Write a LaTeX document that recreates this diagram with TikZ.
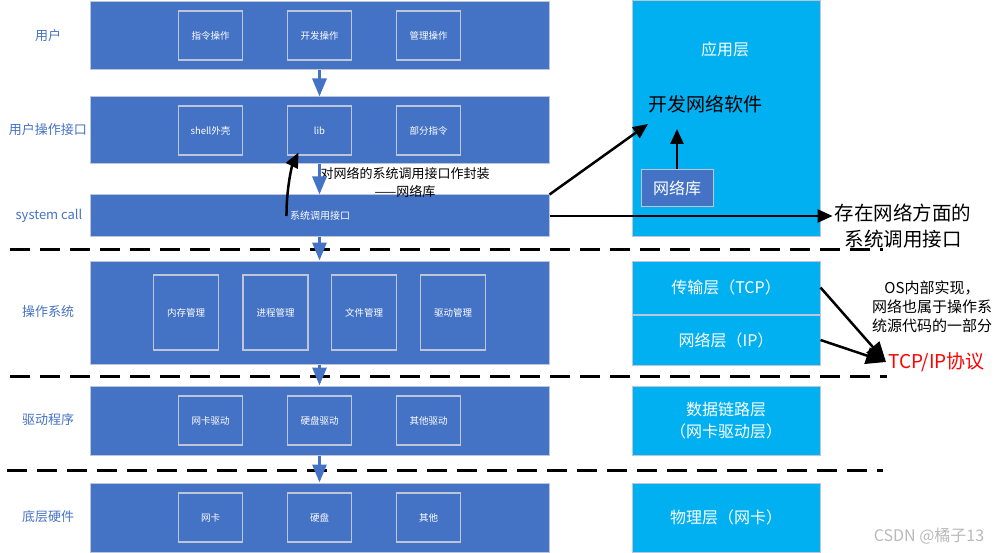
\documentclass[tikz,border=0pt]{standalone}
\usepackage{fontspec}
\setmainfont{Noto Sans CJK SC}
\usetikzlibrary{arrows.meta, positioning}
\definecolor{layerblue}{HTML}{4472C4}
\definecolor{netblue}{HTML}{00B0F0}
\definecolor{edgegray}{HTML}{BCC6D8}

\begin{document}
\begin{tikzpicture}[
    x=1pt, y=-1pt,
    layer/.style={rectangle, draw=edgegray, line width=1pt, fill=layerblue, minimum width=459, inner sep=0},
    part/.style={rectangle, draw=edgegray, line width=1.2pt, fill=layerblue, minimum width=64, minimum height=49, text=white, font=\fontsize{9.5}{11}\selectfont, inner sep=0},
    tall/.style={part, minimum width=65, minimum height=75},
    side/.style={text=layerblue, font=\fontsize{13}{15}\selectfont},
    netbox/.style={rectangle, draw=edgegray, line width=1pt, fill=netblue, minimum width=188, text=white, font=\fontsize{16}{22}\selectfont, align=center, inner sep=0},
    note/.style={text=black, align=center, inner sep=2pt},
    flow/.style={draw=layerblue, line width=3pt, -{Triangle[length=18pt, width=14pt]}},
    arrow/.style={-{Triangle[length=15pt, width=13pt]}, line width=2.5pt},
    bigarrow/.style={-{Triangle[length=20pt, width=17pt]}, line width=2.5pt},
    sep/.style={dash pattern=on 19.5pt off 10.5pt, line width=3pt},
]
\useasboundingbox (0,0) rectangle (1000,553);

% left stack
\node[layer, minimum height=68]  (user)    at (319.5,36)    {};
\node[layer, minimum height=67]  (uif)     at (319.5,130.5) {};
\node[layer, minimum height=42]  (syscall) at (319.5,216)   {};
\node[layer, minimum height=103] (os)      at (319.5,312.5) {};
\node[layer, minimum height=69]  (drv)     at (319.5,420.5) {};
\node[layer, minimum height=69]  (hw)      at (319.5,517.5) {};

\node[side] (userlbl) at (48,36)  {用户};
\node[side] (uiflbl)  at (48,130) {用户操作接口};
\node[side] (syslbl)  at (49,216) {system call};
\node[side] (oslbl)   at (48,312) {操作系统};
\node[side] (drvlbl)  at (48,420) {驱动程序};
\node[side] (hwlbl)   at (48,517) {底层硬件};

\node[part] (cmdop)    at (210.5,35.5)  {指令操作};
\node[part] (devop)    at (319.5,35.5)  {开发操作};
\node[part] (mgmtop)   at (428.5,35.5)  {管理操作};
\node[part] (shell)    at (210.5,130.5) {shell外壳};
\node[part] (lib)      at (319.5,130.5) {lib};
\node[part] (partcmd)  at (428.5,130.5) {部分指令};
\node[text=white, font=\fontsize{10}{12}\selectfont] (sysapi) at (320,216) {系统调用接口};
\node[tall] (mem)      at (186,312.5)   {内存管理};
\node[tall] (proc)     at (275.5,312.5) {进程管理};
\node[tall] (file)     at (364,312.5)   {文件管理};
\node[tall] (drvmgmt)  at (453,312.5)   {驱动管理};
\node[part] (nicdrv)   at (210.5,420.5) {网卡驱动};
\node[part] (diskdrv)  at (319.5,420.5) {硬盘驱动};
\node[part] (otherdrv) at (428.5,420.5) {其他驱动};
\node[part] (nic)      at (210.5,517.5) {网卡};
\node[part] (disk)     at (319.5,517.5) {硬盘};
\node[part] (other)    at (428.5,517.5) {其他};

% right stack
\node[netbox, minimum height=236] (app) at (726,119) {};
\node[text=white, font=\fontsize{16}{20}\selectfont] (apptitle) at (725,49) {应用层};
\node[font=\fontsize{19}{23}\selectfont] (devsoft) at (705,104) {开发网络软件};
\node[netbox, fill=layerblue, minimum width=72, minimum height=37] (netlib) at (677,188.5) {网络库};
\node[netbox, minimum height=53] (transport) at (726,287.5) {传输层（TCP）};
\node[netbox, minimum height=50, below=0pt of transport] (network) {网络层（IP）};
\node[netbox, minimum height=69] (link) at (726,420.5) {数据链路层\\（网卡驱动层）};
\node[netbox, minimum height=69] (phys) at (726,517.5) {物理层（网卡）};

% notes
\node[note, font=\fontsize{13}{18}\selectfont] (wrapnote) at (405,183) {对网络的系统调用接口作封装\\——网络库};
\node[note, font=\fontsize{19.5}{26}\selectfont] (syscallnote) at (903,226) {存在网络方面的\\系统调用接口};
\node[note, font=\fontsize{15}{19}\selectfont] (osnote) at (932,307) {OS内部实现，\\网络也属于操作系\\统源代码的一部分};
\node[text=red, inner sep=2pt, anchor=west, font=\fontsize{19}{22}\selectfont] (tcpip) at (886,362) {TCP/IP协议};
\node[text=gray!55, font=\fontsize{16}{18}\selectfont] (mark) at (929,536) {CSDN @橘子13};

% separators
\coordinate (d1a) at (10,249);  \coordinate (d1b) at (883,249);
\coordinate (d2a) at (10,376);  \coordinate (d2b) at (887,376);
\coordinate (d3a) at (7,470);   \coordinate (d3b) at (883,470);
\draw[sep] (d1a) -- (d1b);
\draw[sep] (d2a) -- (d2b);
\draw[sep] (d3a) -- (d3b);

% vertical flow
\foreach \from/\to in {user/uif, uif/syscall, syscall/os, os/drv, drv/hw}
    \draw[flow] (\from) -- (\to);

% network arrows
\coordinate (devtip)   at (648,124);
\coordinate (softbase) at (677,129);
\draw[arrow] (syscall.north east) -- (devtip);
\draw[arrow] (netlib) -- (softbase);
\draw[arrow] (syscall.east) -- (syscall.east -| syscallnote.west);
\draw[arrow] (sysapi.west) .. controls +(0,-30) and +(-6,12) .. ([xshift=-21pt, yshift=3pt]lib.south);
\draw[bigarrow] (transport.east) -- (tcpip.west);
\draw[bigarrow] (network.east) -- (tcpip.west);

\end{tikzpicture}
\end{document}
